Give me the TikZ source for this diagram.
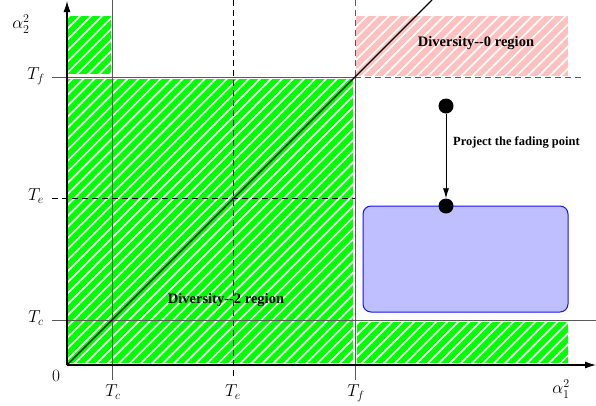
\documentclass[tikz,border=0pt]{standalone}
\usepackage{fontspec}
\newfontfamily\tnr{Liberation Serif}
\usetikzlibrary{arrows.meta,patterns.meta}
\definecolor{hatchgreen}{RGB}{0,255,0}
\definecolor{hatchpink}{RGB}{255,192,192}
\definecolor{boxfill}{RGB}{191,191,255}
\definecolor{boxedge}{RGB}{20,20,240}
\definecolor{gridgray}{RGB}{90,90,90}
\tikzset{
  hatched/.style={pattern={Lines[angle=45,distance=7.8pt,line width=1.7pt]},pattern color=white},
  gridsolid/.style={draw=gridgray,line width=0.9pt},
  griddash/.style={draw=black,line width=0.8pt,dash pattern=on 6pt off 4pt},
  griddashgray/.style={draw=gridgray,line width=0.9pt,dash pattern=on 6pt off 4pt},
  axisline/.style={draw=black,line width=1.1pt,-{Latex[length=11pt,width=7pt]}},
  mathlabel/.style={font=\fontsize{17}{19}\selectfont,inner sep=0pt},
  regionlabel/.style={font=\tnr\bfseries\fontsize{14.5}{16}\selectfont,inner sep=0pt},
  dot/.style={circle,fill=black,inner sep=0pt,minimum size=15pt},
}
\begin{document}
\begin{tikzpicture}[x=1pt,y=-1pt]
\useasboundingbox (0,0) rectangle (596,405);

% hatched regions
\fill[hatchgreen] (68,16) rectangle (111,74);
\fill[hatched] (68,16) rectangle (111,74);
\fill[hatchgreen] (68,79) rectangle (353,363);
\fill[hatched] (68,79) rectangle (353,363);
\fill[hatchgreen] (357,322) rectangle (568,363);
\fill[hatched] (357,322) rectangle (568,363);
\fill[hatchpink] (356,16) rectangle (568,76);
\fill[hatched] (356,16) rectangle (568,76);

% threshold lines
\coordinate (tcv0) at (112,0);   \coordinate (tcv1) at (112,380);
\coordinate (tev0) at (233,0);   \coordinate (tev1) at (233,380);
\coordinate (tfv0) at (355,0);   \coordinate (tfv1) at (355,380);
\coordinate (tfc) at (355,77);
\coordinate (tfh0) at (52,77);   \coordinate (tfh1) at (582,77);
\coordinate (teh0) at (52,198);  \coordinate (teh1) at (355,198);
\coordinate (tch0) at (52,320);  \coordinate (tch1) at (596,320);
\draw[gridsolid] (tcv0) -- (tcv1);
\draw[griddash] (tev0) -- (tev1);
\draw[griddashgray] (tfv0) -- (tfc);
\draw[gridsolid] (tfc) -- (tfv1);
\draw[gridsolid] (tfh0) -- (tfc);
\draw[griddashgray] (tfc) -- (tfh1);
\draw[griddash] (teh0) -- (teh1);
\draw[gridsolid] (tch0) -- (tch1);

% axes and diagonal
\coordinate (O) at (67,365);
\coordinate (xend) at (596,365);
\coordinate (yend) at (67,1);
\coordinate (dend) at (432,0);
\draw[line width=1.3pt] (O) -- (dend);
\draw[axisline] (O) -- (xend);
\draw[axisline] (O) -- (yend);

% projection of the fading point
\node[draw=boxedge,fill=boxfill,line width=1pt,rounded corners=8pt,
      minimum width=205pt,minimum height=106pt] (box) at (465.5,259) {};
\node[dot] (p1) at (446,106) {};
\node[dot] (p2) at (446,206) {};
\draw[line width=0.8pt,-{Latex[length=10pt,width=6pt]}] (p1) -- (p2.north);
\node[font=\tnr\bfseries\fontsize{12.5}{14}\selectfont,anchor=west,inner sep=0pt] (proj) at (453,142) {Project the fading point};

% region names
\node[regionlabel] (div0) at (476,43) {Diversity--0 region};
\node[regionlabel] (div2) at (226,300) {Diversity--2 region};

% axis labels
\node[mathlabel] (a2) at (21,24) {$\alpha_2^2$};
\node[mathlabel] (a1) at (561,389) {$\alpha_1^2$};
\node[mathlabel] (zero) at (56,376) {$0$};
\node[mathlabel] (ltf) at (36,76) {$T_f$};
\node[mathlabel] (lte) at (36,196) {$T_e$};
\node[mathlabel] (ltc) at (36,318) {$T_c$};
\node[mathlabel] (btc) at (113,392) {$T_c$};
\node[mathlabel] (bte) at (233,392) {$T_e$};
\node[mathlabel] (btf) at (356,393) {$T_f$};
\end{tikzpicture}
\end{document}
